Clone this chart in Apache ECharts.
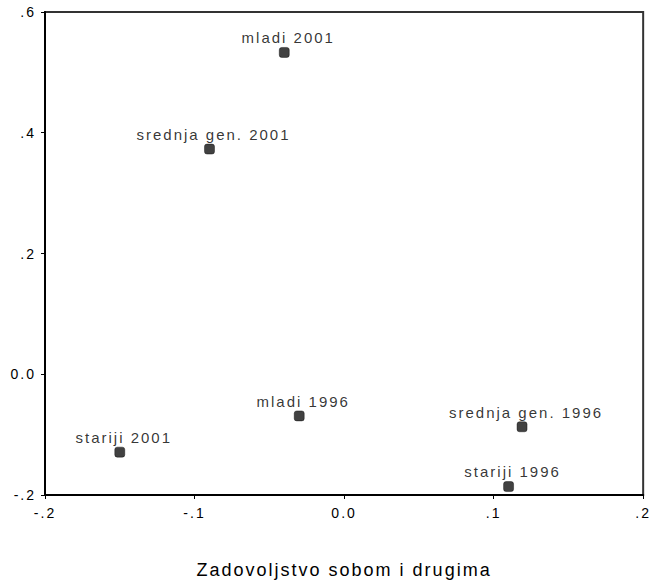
<!DOCTYPE html>
<html>
<head>
<meta charset="utf-8">
<script src="https://cdn.jsdelivr.net/npm/echarts@6/dist/echarts.min.js"></script>
<style>
html,body{margin:0;padding:0;background:#fff;}
#chart{width:652px;height:584px;}
#chart svg text{letter-spacing:2px;}
</style>
</head>
<body>
<div id="chart"></div>
<script>
var pointLabels = ['mladi 2001', 'srednja gen. 2001', 'mladi 1996', 'stariji 2001', 'srednja gen. 1996', 'stariji 1996'];
var xValues = [-0.04, -0.09, -0.03, -0.15, 0.119, 0.11];
var yValues = [0.533, 0.373, -0.069, -0.129, -0.087, -0.186];
var xTickValues = [-0.2, -0.1, 0.0, 0.1, 0.2];
var xTickLabels = ['-.2', '-.1', '0.0', '.1', '.2'];
var yTickValues = [-0.2, 0.0, 0.2, 0.4, 0.6];
var yTickLabels = ['-.2', '0.0', '.2', '.4', '.6'];
var xTitle = 'Zadovoljstvo sobom i drugima';

function lookup(vals, labs) {
  return function (v) {
    for (var i = 0; i < vals.length; i++) {
      if (Math.abs(vals[i] - v) < 1e-6) return labs[i];
    }
    return '';
  };
}

var data = pointLabels.map(function (n, i) { return { name: n, value: [xValues[i], yValues[i]] }; });
var font = '"Liberation Sans", Arial, sans-serif';

var chart = echarts.init(document.getElementById('chart'), null, { renderer: 'svg' });
chart.setOption({
  animation: false,
  backgroundColor: '#fff',
  grid: {
    left: 45, right: 6, top: 12, bottom: 85,
    show: true, borderColor: '#333', borderWidth: 2, backgroundColor: 'transparent'
  },
  xAxis: {
    type: 'value', min: -0.2, max: 0.2, interval: 0.1,
    position: 'bottom',
    name: xTitle, nameLocation: 'middle', nameGap: 66,
    nameTextStyle: { fontFamily: font, fontSize: 18, color: '#000' },
    axisLine: { show: true, onZero: false, lineStyle: { color: '#000', width: 2 } },
    axisTick: { show: true, length: 4, lineStyle: { color: '#000', width: 1 } },
    axisLabel: { fontFamily: font, fontSize: 14, color: '#000', margin: 11, formatter: lookup(xTickValues, xTickLabels) },
    splitLine: { show: false }
  },
  yAxis: {
    type: 'value', min: -0.2, max: 0.6, interval: 0.2,
    axisLine: { show: true, onZero: false, lineStyle: { color: '#000', width: 2 } },
    axisTick: { show: true, length: 4, lineStyle: { color: '#000', width: 1 } },
    axisLabel: { fontFamily: font, fontSize: 14, color: '#000', margin: 9, formatter: lookup(yTickValues, yTickLabels) },
    splitLine: { show: false }
  },
  series: [{
    type: 'scatter',
    data: data,
    symbol: 'roundRect',
    symbolSize: 10,
    itemStyle: { color: '#111', borderColor: '#000', borderWidth: 0.5 },
    label: {
      show: true, position: 'top', distance: 2, offset: [4, 0],
      formatter: '{b}', fontFamily: font, fontSize: 15, color: '#000'
    }
  }]
});
</script>
</body>
</html>
